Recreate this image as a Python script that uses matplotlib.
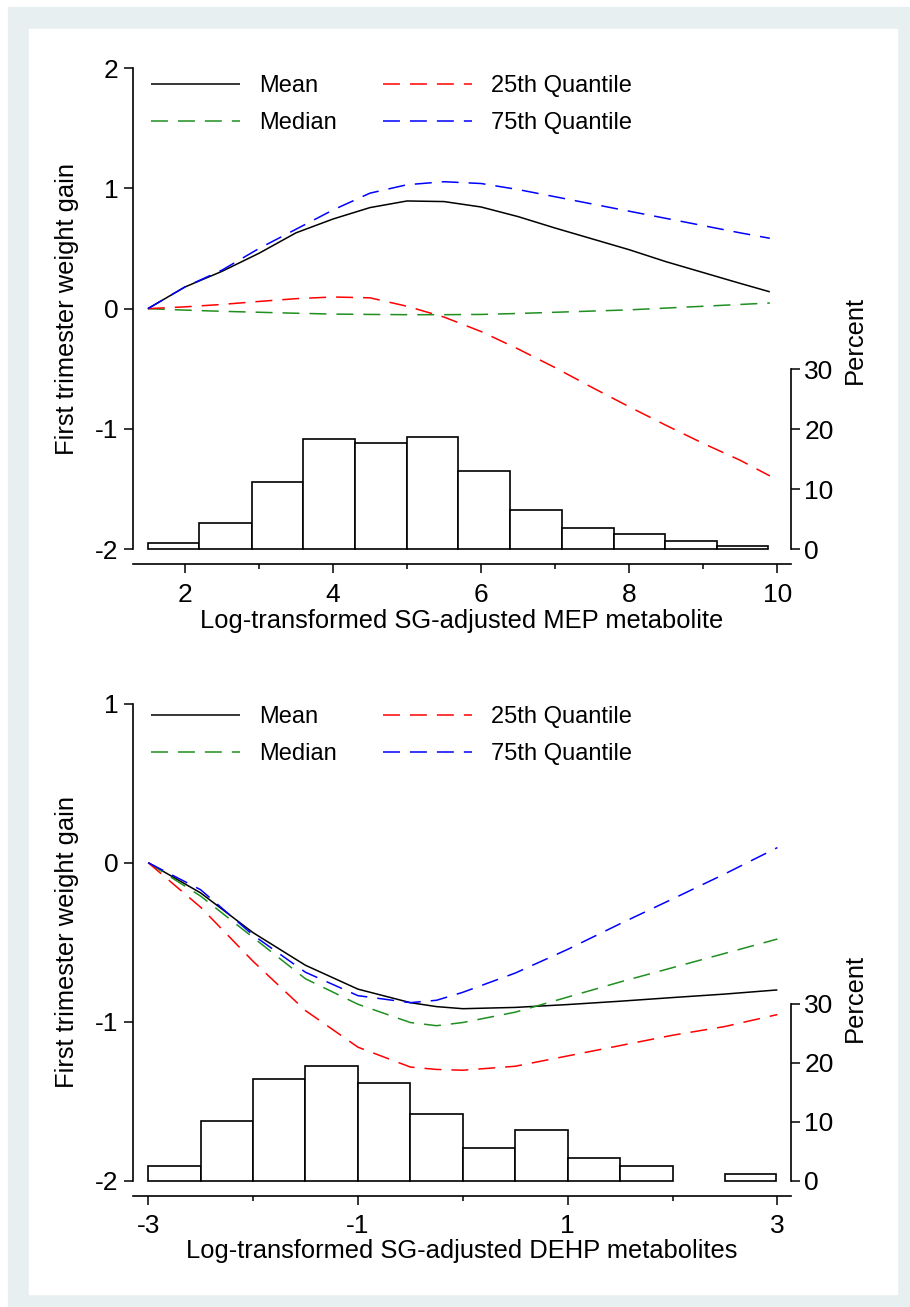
import matplotlib
matplotlib.use("Agg")
import matplotlib.pyplot as plt
from matplotlib.patches import Rectangle

plt.rcParams['font.family'] = ['Liberation Sans', 'DejaVu Sans']
plt.rcParams['axes.unicode_minus'] = False

# ---------------- data: MEP panel ----------------
mep_x = [1.5, 2.0, 2.5, 3.0, 3.5, 4.0, 4.5, 5.0, 5.5, 6.0, 6.5, 7.0, 7.5, 8.0, 8.5, 9.0, 9.5, 9.9]
mep_mean = [0.0, 0.18, 0.31, 0.46, 0.63, 0.745, 0.84, 0.895, 0.89, 0.845, 0.765, 0.67, 0.58, 0.49, 0.39, 0.30, 0.21, 0.14]
mep_median = [0.0, -0.012, -0.022, -0.03, -0.038, -0.045, -0.048, -0.05, -0.05, -0.048, -0.04, -0.03, -0.02, -0.01, 0.005, 0.02, 0.035, 0.047]
mep_q25 = [0.0, 0.015, 0.035, 0.06, 0.083, 0.097, 0.09, 0.02, -0.07, -0.19, -0.335, -0.49, -0.655, -0.815, -0.97, -1.12, -1.26, -1.39]
mep_q75 = [0.0, 0.18, 0.32, 0.50, 0.66, 0.82, 0.96, 1.03, 1.055, 1.04, 0.99, 0.93, 0.87, 0.81, 0.75, 0.69, 0.63, 0.585]
mep_bin_edges = [1.50, 2.19, 2.90, 3.60, 4.30, 5.00, 5.69, 6.39, 7.09, 7.80, 8.48, 9.18, 9.88]
mep_percent = [1.06, 4.33, 11.2, 18.4, 17.8, 18.7, 13.0, 6.56, 3.56, 2.5, 1.39, 0.61]

# ---------------- data: DEHP panel ----------------
dehp_x = [-3.0, -2.5, -2.0, -1.5, -1.0, -0.5, -0.25, 0.0, 0.5, 1.0, 1.5, 2.0, 2.5, 3.0]
dehp_mean = [0.0, -0.19, -0.44, -0.645, -0.795, -0.88, -0.905, -0.918, -0.91, -0.892, -0.871, -0.848, -0.826, -0.80]
dehp_median = [0.0, -0.21, -0.47, -0.73, -0.89, -1.005, -1.025, -1.005, -0.94, -0.845, -0.75, -0.66, -0.57, -0.48]
dehp_q25 = [0.0, -0.28, -0.62, -0.93, -1.16, -1.285, -1.30, -1.305, -1.28, -1.215, -1.15, -1.085, -1.03, -0.955]
dehp_q75 = [0.0, -0.17, -0.455, -0.689, -0.836, -0.88, -0.865, -0.815, -0.694, -0.545, -0.384, -0.228, -0.07, 0.095]
dehp_bin_edges = [-3.0, -2.5, -2.0, -1.5, -1.0, -0.5, 0.0, 0.5, 1.0, 1.5, 2.0, 2.5, 2.99]
dehp_percent = [2.53, 10.2, 17.2, 19.5, 16.5, 11.3, 5.56, 8.54, 3.93, 2.53, 0.0, 1.18]

legend_labels = ['Mean', 'Median', '25th Quantile', '75th Quantile']
series_colors = ['black', '#1f8f1f', '#ff0000', '#0000ff']
pct_ticks = [0, 10, 20, 30]
pct_ticklabels = ['0', '10', '20', '30']

W, H = 910, 1307
fig = plt.figure(figsize=(W / 100, H / 100), dpi=100)
fig.patch.set_facecolor('white')

# light frame around a white panel
fig.patches.append(Rectangle((8 / W, 0), (W - 8) / W, (H - 7) / H,
                             transform=fig.transFigure, color='#e8eff1', zorder=-10))
fig.patches.append(Rectangle((29 / W, (H - 1294) / H), (897 - 29) / W, (1294 - 29) / H,
                             transform=fig.transFigure, color='white', zorder=-9))


def px_axes(left, top, right, bottom):
    return fig.add_axes([left / W, 1 - bottom / H, (right - left) / W, (bottom - top) / H])


LW = 1.1
DASH = (12.2 / LW, 7.2 / LW)


def draw_panel(rect, x, curves, xlim, ylim, ybounds, yticks, yticklabels,
               xmajor, xmajor_labels, xminor, edges, pct, pct_ylim,
               xlabel, xlabel_y_px, legend_top_px, ylabel_y_px, pct_label_y_px):
    left, top, right, bottom = rect
    ax2 = px_axes(left, top, right, bottom)
    ax = px_axes(left, top, right, bottom)
    ax.set_zorder(ax2.get_zorder() + 1)
    ax.patch.set_visible(False)

    # histogram on the right-hand percent axis
    lefts = [e for e, h in zip(edges[:-1], pct) if h > 0]
    widths = [edges[i + 1] - edges[i] for i, h in enumerate(pct) if h > 0]
    heights = [h for h in pct if h > 0]
    ax2.bar(lefts, heights, width=widths, align='edge', facecolor='white',
            edgecolor='black', linewidth=1.2)
    ax2.set_xlim(xlim)
    ax2.set_ylim(pct_ylim)
    for s in ['left', 'top', 'bottom']:
        ax2.spines[s].set_visible(False)
    ax2.spines['right'].set_bounds(0, 30)
    ax2.spines['right'].set_linewidth(1.2)
    ax2.yaxis.tick_right()
    ax2.set_yticks(pct_ticks)
    ax2.set_yticklabels(pct_ticklabels)
    ax2.set_xticks([])
    ax2.tick_params(axis='y', direction='out', length=6.5, width=1.1, labelsize=19, pad=3)

    # fitted curves
    for y, c, lab in zip(curves, series_colors, legend_labels):
        if lab == 'Mean':
            ax.plot(x, y, color=c, lw=LW, solid_capstyle='butt', label=lab)
        else:
            ax.plot(x, y, color=c, lw=LW, dashes=DASH, dash_capstyle='butt', label=lab)
    ax.set_xlim(xlim)
    ax.set_ylim(ylim)
    for s in ['top', 'right']:
        ax.spines[s].set_visible(False)
    ax.spines['left'].set_bounds(*ybounds)
    ax.spines['left'].set_linewidth(1.2)
    ax.spines['bottom'].set_linewidth(1.2)
    ax.set_yticks(yticks)
    ax.set_yticklabels(yticklabels)
    ax.set_xticks(xmajor)
    ax.set_xticklabels(xmajor_labels)
    ax.set_xticks(xminor, minor=True)
    ax.tick_params(axis='both', which='major', direction='out', length=6.5, width=1.1,
                   labelsize=19)
    ax.tick_params(axis='y', pad=4)
    ax.tick_params(axis='x', pad=7)
    ax.tick_params(axis='x', which='minor', direction='out', length=3.3, width=1.1)

    ax.set_xlabel(xlabel, fontsize=18.4)
    ax.xaxis.label.set_va('center')
    ax.xaxis.set_label_coords(0.5, -(xlabel_y_px - bottom) / (bottom - top))

    ax.legend(ncol=2, loc='upper left',
              bbox_to_anchor=(151 / W, 1 - legend_top_px / H),
              bbox_transform=fig.transFigure, frameon=False, borderpad=0,
              borderaxespad=0, handlelength=3.77, handletextpad=0.8,
              columnspacing=1.95, labelspacing=0.65, fontsize=17)

    fig.text(67 / W, 1 - ylabel_y_px / H, 'First trimester weight gain', rotation=90,
             ha='center', va='center', fontsize=18.4)
    fig.text(855 / W, 1 - pct_label_y_px / H, 'Percent', rotation=90,
             ha='center', va='center', fontsize=18.4)
    return ax, ax2


# top panel: MEP
draw_panel((133, 66.8, 791, 564), mep_x, [mep_mean, mep_median, mep_q25, mep_q75],
           (1.299, 10.186), (-2.122, 2.01), (-2, 2), [2, 1, 0, -1, -2],
           ['2', '1', '0', '-1', '-2'], [2, 4, 6, 8, 10], ['2', '4', '6', '8', '10'],
           [3, 5, 7, 9], mep_bin_edges, mep_percent, (-2.45, 80.42),
           'Log-transformed SG-adjusted MEP metabolite', 621, 75, 309, 340)

# bottom panel: DEHP
draw_panel((133, 702.1, 791, 1195.7), dehp_x, [dehp_mean, dehp_median, dehp_q25, dehp_q75],
           (-3.145, 3.13), (-2.094, 1.01), (-2, 1), [1, 0, -1, -2],
           ['1', '0', '-1', '-2'], [-3, -1, 1, 3], ['-3', '-1', '1', '3'],
           [-2, 0, 2], dehp_bin_edges, dehp_percent, (-2.54, 81.12),
           'Log-transformed SG-adjusted DEHP metabolites', 1251, 706, 942, 998)

fig.savefig('out.png', dpi=100, facecolor='white')
